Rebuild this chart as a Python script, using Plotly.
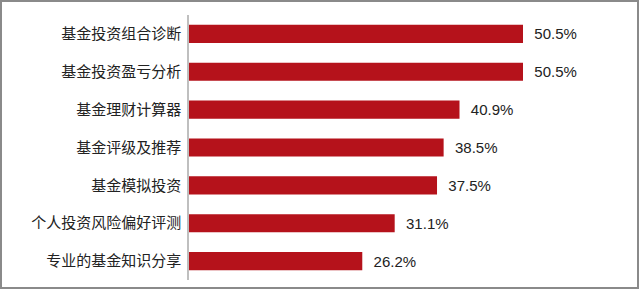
import plotly.graph_objects as go

categories = ["基金投资组合诊断", "基金投资盈亏分析", "基金理财计算器", "基金评级及推荐",
              "基金模拟投资", "个人投资风险偏好评测", "专业的基金知识分享"]
values = [50.5, 50.5, 40.9, 38.5, 37.5, 31.1, 26.2]
labels = [f"\u00a0\u00a0{v:.1f}%" for v in values]

W, H = 640, 290
L, R, T, B = 189, 20, 15, 10
pw, ph = W - L - R, H - T - B

fig = go.Figure(go.Bar(
    y=categories, x=values, orientation="h",
    marker=dict(color="#B5121B", line=dict(width=0)),
    width=0.48,
    text=labels, textposition="outside", cliponaxis=False,
    textfont=dict(family="Liberation Sans, Arial", size=15, color="#222222"),
))

def px(x):
    return (x - L) / pw

def py(y):
    return (H - B - y) / ph

fig.add_shape(type="rect", xref="paper", yref="paper",
              x0=px(1), x1=px(638), y0=py(288), y1=py(1),
              line=dict(color="#8a8a8a", width=2), layer="below")

fig.update_layout(
    width=W, height=H, margin=dict(l=L, r=R, t=T, b=B),
    paper_bgcolor="white", plot_bgcolor="white",
    showlegend=False, bargap=0.52,
    xaxis=dict(range=[0, pw / (334 / 50.5)], visible=False, showgrid=False, zeroline=False),
    yaxis=dict(autorange="reversed", showgrid=False, zeroline=False,
               showline=True, linecolor="#bfbfbf", linewidth=1.5,
               ticks="", ticklabelstandoff=3,
               tickfont=dict(family="Noto Sans CJK SC", size=15, color="#222222")),
    font=dict(family="Noto Sans CJK SC"),
)

fig.write_html("out.html")
